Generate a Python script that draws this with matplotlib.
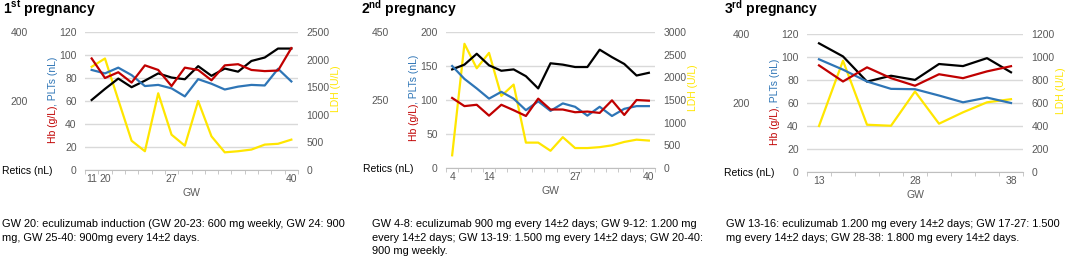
import numpy as np
import matplotlib
matplotlib.use("Agg")
import matplotlib.pyplot as plt

plt.rcParams["font.family"] = ["Liberation Sans", "DejaVu Sans"]
plt.rcParams["mathtext.fontset"] = "custom"
plt.rcParams["mathtext.rm"] = "Liberation Sans"
plt.rcParams["mathtext.bf"] = "Liberation Sans:bold"

RED = "#C00000"
BLUE = "#2E75B6"
YELLOW = "#FFE600"
GREY = "#595959"

# ---- 1st pregnancy ----
p1_labels = ["11", "20", "", "", "", "", "27", "", "", "", "", "", "", "", "", "40"]
p1_hb = [97, 80, 85, 76, 91, 87, 73, 89, 87, 78, 91, 92, 87, 86, 86.5, 106]
p1_plt = [87, 84, 89, 82.5, 73, 74, 71, 64, 79, 75, 70, 72.5, 74, 73.5, 88, 77]
p1_retics = [203, 235, 265, 240, 259, 280, 268, 263, 301, 273, 294, 285, 316, 326, 352, 352]
p1_ldh = [1870, 2020, 1270, 530, 340, 1390, 640, 440, 1250, 610, 320, 340, 370, 460, 475, 550]

# ---- 2nd pregnancy ----
p2_labels = ["4", "", "", "14", "", "", "", "", "", "", "27", "", "", "", "", "", "40"]
p2_hb = [103, 91, 93, 77, 93, 85, 76.5, 102, 86, 86, 82, 83, 81, 99.5, 78, 100, 99]
p2_plt = [150, 131, 117, 102, 112, 102, 85, 98, 84, 95, 90, 77, 90, 76.5, 87, 91, 91]
p2_retics = [340, 354, 386, 352, 336, 340, 320, 284, 358, 354, 347, 347, 398, 376, 356, 322, 330]
p2_ldh = [280, 2740, 2200, 2540, 1590, 1840, 560, 560, 380, 680, 440, 440, 460, 500, 575, 625, 605]

# ---- 3rd pregnancy ----
p3_labels = ["13", "", "", "", "28", "", "", "", "38"]
p3_hb = [92.7, 78.7, 91, 81.6, 75, 85, 81.6, 87.5, 92]
p3_plt = [98, 89, 78.7, 72.3, 72, 66.5, 60.6, 64.7, 60]
p3_retics = [373, 335, 262, 279, 267, 313, 307, 330, 289]
p3_ldh = [400, 968, 411, 402, 700, 420, 519, 606, 633]

W, H = 1074, 259
fig = plt.figure(figsize=(W / 100, H / 100), dpi=100)


def fx(px):
    return px / W


def fy(py):
    return 1 - py / H


panels = [
    dict(title=r"1$^{\mathbf{st}}$ pregnancy", tx=3, box=(85, 32, 298, 170),
         labels=p1_labels, hb=p1_hb, plt_=p1_plt, retics=p1_retics, ldh=p1_ldh,
         left=(0, 120, 20), right=(0, 2500, 500), rlim=(0, 400), rticks=[200, 400],
         note="GW 20: eculizumab induction (GW 20-23: 600 mg weekly, GW 24: 900\n"
              "mg, GW 25-40: 900mg every 14\u00b12 days.", nx=2),
    dict(title=r"2$^{\mathbf{nd}}$ pregnancy", tx=361, box=(446, 32, 655, 168),
         labels=p2_labels, hb=p2_hb, plt_=p2_plt, retics=p2_retics, ldh=p2_ldh,
         left=(0, 200, 50), right=(0, 3000, 500), rlim=(50, 450), rticks=[250, 450],
         note="GW 4-8: eculizumab 900 mg every 14\u00b12 days; GW 9-12: 1.200 mg\n"
              "every 14\u00b12 days; GW 13-19: 1.500 mg every 14\u00b12 days; GW 20-40:\n"
              "900 mg weekly.", nx=372),
    dict(title=r"3$^{\mathbf{rd}}$ pregnancy", tx=724, box=(807, 34, 1023, 172),
         labels=p3_labels, hb=p3_hb, plt_=p3_plt, retics=p3_retics, ldh=p3_ldh,
         left=(0, 120, 20), right=(0, 1200, 200), rlim=(0, 400), rticks=[200, 400],
         note="GW 13-16: eculizumab 1.200 mg every 14\u00b12 days; GW 17-27: 1.500\n"
              "mg every 14\u00b12 days; GW 28-38: 1.800 mg every 14\u00b12 days.", nx=726),
]

for p in panels:
    x0, y0, x1, y1 = p["box"]
    ax = fig.add_axes([fx(x0), fy(y1), fx(x1 - x0), (y1 - y0) / H])
    n = len(p["labels"])
    x = np.arange(n)

    lo, hi, st = p["left"]
    ax.set_ylim(lo, hi)
    ax.set_yticks(np.arange(lo, hi + st, st))
    ax.set_xlim(-0.5, n - 0.5)
    ax.grid(axis="y", color="#D9D9D9", lw=1)
    ax.set_axisbelow(True)
    for s in ["top", "left", "right"]:
        ax.spines[s].set_visible(False)
    ax.spines["bottom"].set_color("#BFBFBF")
    ax.set_xticks(x)
    ax.set_xticklabels(p["labels"])
    ax.set_xticks(np.arange(-0.5, n, 1), minor=True)
    ax.tick_params(axis="x", which="major", length=0, labelsize=7.5, colors=GREY, pad=3)
    ax.tick_params(axis="x", which="minor", length=3, color="#BFBFBF")
    ax.tick_params(axis="y", length=0, labelsize=7.5, colors=GREY, pad=6)
    ax.set_xlabel("GW", fontsize=7.5, color=GREY, labelpad=3)

    # LDH on the right axis
    axr = ax.twinx()
    rlo, rhi, rst = p["right"]
    axr.set_ylim(rlo, rhi)
    axr.set_yticks(np.arange(rlo, rhi + rst, rst))
    axr.tick_params(axis="y", length=0, labelsize=7.5, colors=GREY, pad=6)
    for s in axr.spines.values():
        s.set_visible(False)
    axr.plot(x, p["ldh"], color=YELLOW, lw=1.6)

    # reticulocytes on their own scale, labelled far left
    ax3 = ax.twinx()
    ax3.set_ylim(*p["rlim"])
    ax3.set_yticks(p["rticks"])
    ax3.yaxis.set_ticks_position("left")
    ax3.tick_params(axis="y", length=0, labelsize=7.5, colors=GREY, pad=41)
    for s in ax3.spines.values():
        s.set_visible(False)
    ax3.plot(x, p["retics"], color="black", lw=1.6)

    # Hb and PLTs share the left scale
    ax4 = ax.twinx()
    ax4.set_ylim(lo, hi)
    ax4.set_yticks([])
    for s in ax4.spines.values():
        s.set_visible(False)
    ax4.plot(x, p["plt_"], color=BLUE, lw=1.6)
    ax4.plot(x, p["hb"], color=RED, lw=1.6)

    # y labels
    t1 = fig.text(fx(x0 - 32), fy(y1 - 27), "Hb (g/L)", rotation=90, color=RED,
                  fontsize=7.5, ha="center", va="bottom")
    ax.annotate(", PLTs (nL)", xy=(0.5, 1), xycoords=t1, rotation=90,
                color=BLUE, fontsize=7.5, ha="center", va="bottom",
                annotation_clip=False)
    fig.text(fx(x1 + 38), fy((y0 + y1) / 2 - 12), "LDH (U/L)", rotation=90,
             color=YELLOW, fontsize=7.5, ha="center", va="center")
    fig.text(fx(x0 - 83), fy(y1 + 1), "Retics (nL)", fontsize=7.5,
             color="black", ha="left", va="center")

    fig.text(fx(p["tx"]), fy(9), p["title"], fontsize=10, fontweight="bold",
             ha="left", va="center")
    fig.text(fx(p["nx"]), fy(219), p["note"], fontsize=7.9, color="black",
             ha="left", va="top", linespacing=1.45)

fig.savefig("out.png", dpi=100)
